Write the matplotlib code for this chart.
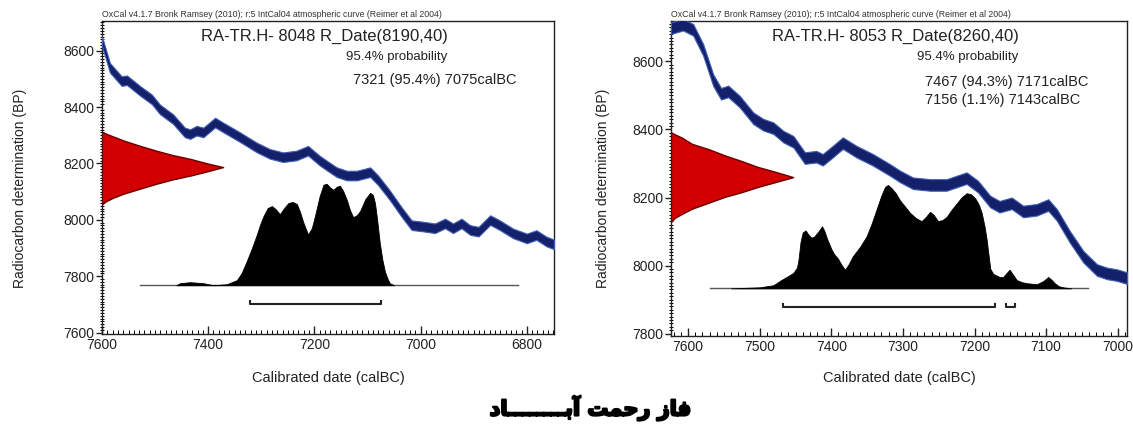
import numpy as np
import matplotlib

matplotlib.use("Agg")
import matplotlib.pyplot as plt
import matplotlib.patheffects as pe
from matplotlib.ticker import MultipleLocator

plt.rcParams["font.family"] = ["Liberation Sans", "DejaVu Sans"]

# ---- 公共文字 ----
header = "OxCal v4.1.7 Bronk Ramsey (2010); r:5 IntCal04 atmospheric curve (Reimer et al 2004)"
y_label = "Radiocarbon determination (BP)"
x_label = "Calibrated date (calBC)"
prob_label = "95.4% probability"
# 波斯文标题（按显示顺序写出的阿拉伯字母表现形式）
phase_title = ("\ufea9\ufe8e" + "\u0640" * 8 + "\ufe91\ufe81" + " "
               + "\ufe96\ufee4\ufea3\ufead" + " " + "\ufeaf\ufe8e\ufed3")

# ---- 左图: RA-TR.H- 8048 ----
left_title = "RA-TR.H- 8048 R_Date(8190,40)"
left_range_lines = ["7321 (95.4%) 7075calBC"]
left_ranges = [(7321, 7075)]
left_curve_years = [7600, 7585, 7563, 7553, 7528, 7506, 7491, 7466, 7444, 7434,
                    7422, 7409, 7387, 7372, 7340, 7309, 7284, 7259, 7234, 7212,
                    7190, 7177, 7158, 7139, 7120, 7095, 7080, 7058, 7036, 7017,
                    6995, 6973, 6954, 6939, 6923, 6907, 6891, 6869, 6851, 6826,
                    6800, 6782, 6763, 6749]
left_curve_bp = [8633, 8539, 8492, 8495, 8457, 8427, 8392, 8357, 8310, 8304,
                 8316, 8310, 8345, 8328, 8293, 8257, 8234, 8222, 8228, 8245,
                 8210, 8193, 8169, 8157, 8157, 8169, 8140, 8087, 8028, 7981,
                 7976, 7970, 7987, 7970, 7987, 7964, 7958, 7999, 7981, 7952,
                 7934, 7946, 7923, 7913]
left_red_bp = [8055, 8065, 8078, 8093, 8110, 8128, 8143, 8157, 8172, 8187,
               8200, 8216, 8230, 8245, 8263, 8281, 8296, 8306, 8312]
left_red_rel = [0, 0.03, 0.09, 0.18, 0.31, 0.45, 0.58, 0.73, 0.87, 1.0,
                0.87, 0.73, 0.58, 0.45, 0.31, 0.18, 0.09, 0.03, 0]
left_black_years = [7460, 7453, 7434, 7409, 7390, 7365, 7346, 7337, 7328, 7318,
                    7309, 7302, 7296, 7288, 7280, 7273, 7265, 7257, 7249, 7241,
                    7233, 7227, 7221, 7212, 7205, 7199, 7190, 7183, 7177, 7170,
                    7164, 7158, 7152, 7146, 7139, 7133, 7127, 7120, 7114, 7104,
                    7095, 7090, 7086, 7082, 7077, 7072, 7067, 7062, 7058, 7050]
left_black_rel = [0, 0.02, 0.03, 0.02, 0.0, 0.01, 0.05, 0.12, 0.23, 0.36,
                  0.49, 0.60, 0.68, 0.76, 0.78, 0.75, 0.70, 0.76, 0.81, 0.82,
                  0.80, 0.72, 0.62, 0.50, 0.56, 0.68, 0.88, 0.99, 1.0, 0.96,
                  0.94, 0.97, 0.98, 0.93, 0.84, 0.74, 0.67, 0.69, 0.73, 0.85,
                  0.91, 0.89, 0.81, 0.65, 0.42, 0.25, 0.13, 0.06, 0.02, 0]
left_base_bp = 7768
left_black_height = 360
left_base_span = [7529, 6817]
left_bracket_bp = 7702

# ---- 右图: RA-TR.H- 8053 ----
right_title = "RA-TR.H- 8053 R_Date(8260,40)"
right_range_lines = ["7467 (94.3%) 7171calBC", "7156 (1.1%) 7143calBC"]
right_ranges = [(7467, 7171), (7156, 7143)]
right_curve_years = [7624, 7607, 7593, 7579, 7565, 7554, 7544, 7528, 7509, 7495,
                     7481, 7467, 7453, 7437, 7421, 7412, 7398, 7384, 7365, 7342,
                     7318, 7304, 7286, 7262, 7239, 7225, 7211, 7195, 7178, 7165,
                     7148, 7132, 7113, 7097, 7085, 7067, 7048, 7029, 7015, 7001,
                     6987]
right_curve_bp = [8698, 8708, 8693, 8634, 8545, 8505, 8512, 8482, 8433, 8414,
                  8404, 8379, 8364, 8316, 8320, 8311, 8335, 8360, 8335, 8311,
                  8281, 8262, 8242, 8237, 8237, 8247, 8257, 8232, 8188, 8173,
                  8183, 8159, 8164, 8178, 8149, 8085, 8026, 7987, 7977, 7972,
                  7963]
right_red_bp = [8128, 8140, 8152, 8167, 8185, 8202, 8216, 8231, 8246, 8260,
                8275, 8290, 8307, 8324, 8342, 8358, 8376, 8386, 8392]
right_red_rel = [0, 0.03, 0.09, 0.17, 0.31, 0.44, 0.58, 0.71, 0.86, 1.0,
                 0.86, 0.71, 0.58, 0.44, 0.31, 0.17, 0.09, 0.03, 0]
right_black_years = [7540, 7500, 7481, 7470, 7460, 7453, 7448, 7446, 7443, 7440,
                     7436, 7432, 7428, 7424, 7418, 7413, 7410, 7406, 7400, 7396,
                     7391, 7386, 7381, 7376, 7370, 7360, 7351, 7344, 7337, 7330,
                     7325, 7321, 7316, 7310, 7304, 7297, 7290, 7282, 7274, 7268,
                     7262, 7257, 7251, 7245, 7239, 7232, 7225, 7218, 7211, 7205,
                     7199, 7194, 7190, 7186, 7183, 7180, 7178, 7174, 7171, 7165,
                     7160, 7155, 7151, 7146, 7141, 7134, 7127, 7113, 7104, 7097,
                     7092, 7088, 7082, 7076, 7065]
right_black_rel = [0, 0.01, 0.03, 0.08, 0.12, 0.15, 0.20, 0.27, 0.45, 0.54,
                   0.56, 0.52, 0.49, 0.50, 0.55, 0.60, 0.56, 0.48, 0.38, 0.33,
                   0.29, 0.23, 0.18, 0.23, 0.31, 0.40, 0.50, 0.62, 0.76, 0.90,
                   0.98, 1.0, 0.97, 0.92, 0.85, 0.79, 0.73, 0.68, 0.65, 0.69,
                   0.74, 0.71, 0.65, 0.66, 0.69, 0.76, 0.82, 0.88, 0.92, 0.91,
                   0.87, 0.81, 0.73, 0.60, 0.47, 0.30, 0.19, 0.14, 0.13, 0.11,
                   0.11, 0.15, 0.18, 0.13, 0.08, 0.06, 0.05, 0.04, 0.07, 0.11,
                   0.08, 0.05, 0.02, 0.01, 0]
right_base_bp = 7933
right_black_height = 304
right_base_span = [7570, 7041]
right_bracket_bp = 7879


def draw_panel(ax, xlim, ylim, x_major, curve_years, curve_bp, red_bp, red_rel,
               black_years, black_rel, base_bp, black_height, base_span,
               ranges, bracket_bp, title, range_lines, text_y):
    """绘制一个 OxCal 风格的校正图。"""
    ax.set_xlim(*xlim)
    ax.set_ylim(*ylim)

    # 校正曲线（深蓝色带）
    band = 17
    c = np.array(curve_bp, dtype=float)
    ax.fill_between(curve_years, c - band, c + band, facecolor="#14216a",
                    edgecolor="#3f5fb5", linewidth=0.8, zorder=5)

    # 红色放射性碳测年分布（沿 y 轴）
    span = xlim[0] - xlim[1]
    ax.fill_betweenx(red_bp, xlim[0], xlim[0] - np.array(red_rel) * 0.268 * span,
                     facecolor="#d20000", edgecolor="#6a0000", linewidth=1.0, zorder=3)

    # 黑色校正后概率分布
    ax.fill_between(black_years, base_bp, base_bp + np.array(black_rel) * black_height,
                    facecolor="black", edgecolor="black", linewidth=0.6, zorder=4)
    ax.plot(base_span, [base_bp, base_bp], color="#555555", linewidth=1.0, zorder=3)

    # 95.4% 区间括号
    cap = 9
    for a, b in ranges:
        ax.plot([a, a, b, b], [bracket_bp + cap, bracket_bp, bracket_bp, bracket_bp + cap],
                color="#222222", linewidth=1.5, zorder=4)

    # 刻度
    ax.xaxis.set_major_locator(MultipleLocator(x_major))
    ax.xaxis.set_minor_locator(MultipleLocator(10))
    ax.yaxis.set_major_locator(MultipleLocator(200))
    ax.yaxis.set_minor_locator(MultipleLocator(10))
    ax.tick_params(axis="x", which="major", direction="in", length=6, width=1,
                   pad=3, labelsize=10, colors="#222222")
    ax.tick_params(axis="x", which="minor", direction="in", length=3, width=0.7)
    ax.tick_params(axis="y", which="major", direction="out", length=4, width=1,
                   pad=1.5, labelsize=10, colors="#222222")
    ax.tick_params(axis="y", which="minor", direction="inout", length=3, width=0.7)
    for spine in ax.spines.values():
        spine.set_linewidth(1.0)
        spine.set_color("#222222")

    # 文字
    ax.text(0.0, 1.005, header, transform=ax.transAxes, ha="left", va="bottom",
            fontsize=6.3, color="#333333")
    ax.text(0.492, 0.952, title, transform=ax.transAxes, ha="center", va="center",
            fontsize=12, color="#222222")
    ax.text(0.54, text_y[0], prob_label, transform=ax.transAxes, ha="left",
            va="center", fontsize=9.5, color="#222222")
    for line, y in zip(range_lines, text_y[1:]):
        ax.text(0.556, y, line, transform=ax.transAxes, ha="left", va="center",
                fontsize=10.5, color="#222222")


fig = plt.figure(figsize=(11.33, 4.28), dpi=100)
ax_left = fig.add_axes([0.0900, 0.2196, 0.3989, 0.7313])
ax_right = fig.add_axes([0.5922, 0.2150, 0.4025, 0.7360])

draw_panel(ax_left, (7600, 6749), (7595, 8705), 200,
           left_curve_years, left_curve_bp, left_red_bp, left_red_rel,
           left_black_years, left_black_rel, left_base_bp, left_black_height,
           left_base_span, left_ranges, left_bracket_bp, left_title,
           left_range_lines, [0.885, 0.811])
draw_panel(ax_right, (7624, 6987), (7793, 8719), 100,
           right_curve_years, right_curve_bp, right_red_bp, right_red_rel,
           right_black_years, right_black_rel, right_base_bp, right_black_height,
           right_base_span, right_ranges, right_bracket_bp, right_title,
           right_range_lines, [0.886, 0.806, 0.748])

# 坐标轴标题
fig.text(20 / 1133, 0.56, y_label, rotation=90, ha="center", va="center",
         fontsize=10, color="#222222")
fig.text(603 / 1133, 0.56, y_label, rotation=90, ha="center", va="center",
         fontsize=10, color="#222222")
fig.text(0.2895, 0.117, x_label, ha="center", va="center", fontsize=10.5, color="#222222")
fig.text(0.7935, 0.117, x_label, ha="center", va="center", fontsize=10.5, color="#222222")

# 底部波斯文标题（加描边使字体更粗）
fig.text(590 / 1133, 1 - 408 / 428, phase_title, ha="center", va="center",
         fontsize=15, fontweight="bold", family="DejaVu Sans", color="black",
         path_effects=[pe.withStroke(linewidth=1.6, foreground="black")])

fig.savefig("out.png", dpi=100)
plt.close(fig)
